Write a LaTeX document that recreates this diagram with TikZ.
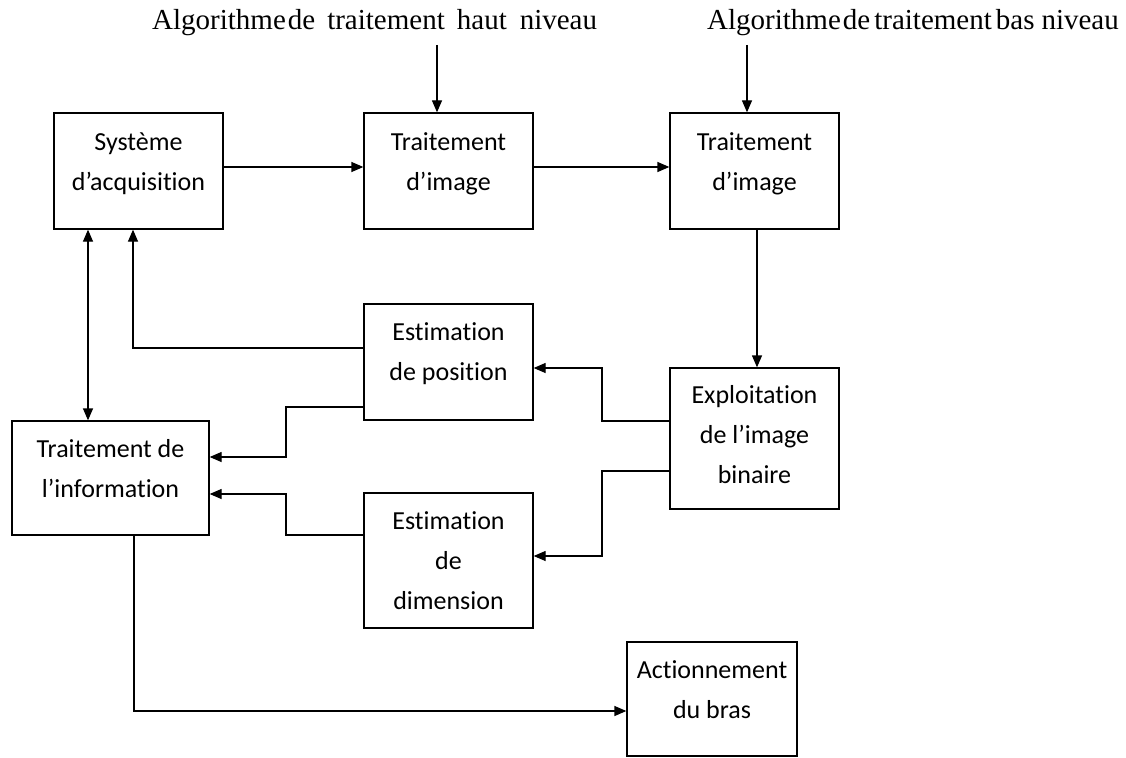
\documentclass[tikz,border=0pt]{standalone}
\usepackage{fontspec}
\setmainfont{Liberation Serif}
\newfontfamily\boxfont[Ligatures=NoCommon]{Carlito}
\usetikzlibrary{arrows.meta}
\begin{document}
\begin{tikzpicture}[x=1pt,y=-1pt,
  blk/.style={draw, line width=1.3pt, rectangle, inner sep=0pt},
  txt/.style={anchor=north, inner sep=0pt, align=center,
    font=\boxfont\fontsize{26}{40}\selectfont,
    execute at begin node={\rule{0pt}{19.5pt}}},
  toplbl/.style={anchor=base west, inner sep=0pt, font=\fontsize{29}{34}\selectfont},
  conn/.style={line width=1.3pt},
  arr/.style={conn, -{Triangle[length=12pt,width=10pt]}},
  darr/.style={conn, {Triangle[length=12pt,width=10pt]}-{Triangle[length=12pt,width=10pt]}}
]
\useasboundingbox (0,0) rectangle (1126,757);
\fill[white] (0,0) rectangle (1126,757);

% top labels
\node[toplbl] (lh) at (152,30) {Algorithme\hspace{2pt}de\hspace{12pt}traitement\hspace{12pt}haut\hspace{13pt}niveau};
\node[toplbl] (lb) at (707,30) {Algorithme\hspace{2pt}de\hspace{4pt}traitement\hspace{4pt}bas\hspace{7pt}niveau};

% boxes
\node[blk, minimum width=169pt, minimum height=116pt] (b1) at (138.5,171) {};
\node[blk, minimum width=169pt, minimum height=116pt] (b2) at (448.5,171) {};
\node[blk, minimum width=169pt, minimum height=116pt] (b3) at (754.5,171) {};
\node[blk, minimum width=169pt, minimum height=116pt] (b4) at (448.5,362) {};
\node[blk, minimum width=169pt, minimum height=141pt] (b5) at (754.5,438.5) {};
\node[blk, minimum width=197pt, minimum height=114pt] (b6) at (110.5,478) {};
\node[blk, minimum width=169pt, minimum height=135pt] (b7) at (448.5,560.5) {};
\node[blk, minimum width=170pt, minimum height=114pt] (b8) at (712,699) {};

% box texts
\node[txt] (t1) at ([yshift=-20pt]b1.north) {Système\\d’acquisition};
\node[txt] (t2) at ([yshift=-20pt]b2.north) {Traitement\\d’image};
\node[txt] (t3) at ([yshift=-20pt]b3.north) {Traitement\\d’image};
\node[txt] (t4) at ([yshift=-19.5pt]b4.north) {Estimation\\de position};
\node[txt] (t5) at ([yshift=-18pt]b5.north) {Exploitation\\de l’image\\binaire};
\node[txt] (t6) at ([yshift=-19pt]b6.north) {Traitement de\\l’information};
\node[txt] (t7) at ([yshift=-19pt]b7.north) {Estimation\\de\\dimension};
\node[txt] (t8) at ([yshift=-19pt]b8.north) {Actionnement\\du bras};

% connectors
\coordinate (a1) at (437,45);
\coordinate (a2) at (747,45);
\draw[arr] (a1) -- (a1 |- b2.north);
\draw[arr] (a2) -- (a2 |- b3.north);
\draw[arr] (b1.east |- 0,167) -- (b2.west |- 0,167);
\draw[arr] (b2.east |- 0,167) -- (b3.west |- 0,167);
\draw[arr] (b3.south -| 757,0) -- (b5.north -| 757,0);
\draw[arr] (b5.west |- 0,421) -| (602,368) -- (b4.east |- 0,368);
\draw[arr] (b5.west |- 0,471) -| (602,556) -- (b7.east |- 0,556);
\draw[arr] (b4.west |- 0,407) -| (286,457) -- (b6.east |- 0,457);
\draw[arr] (b7.west |- 0,535) -| (286,494) -- (b6.east |- 0,494);
\draw[arr] (b4.west |- 0,348) -| (b1.south -| 133,0);
\draw[darr] (b1.south -| 88,0) -- (b6.north -| 88,0);
\draw[arr] (b6.south -| 134,0) |- (b8.west |- 0,711);
\end{tikzpicture}
\end{document}
